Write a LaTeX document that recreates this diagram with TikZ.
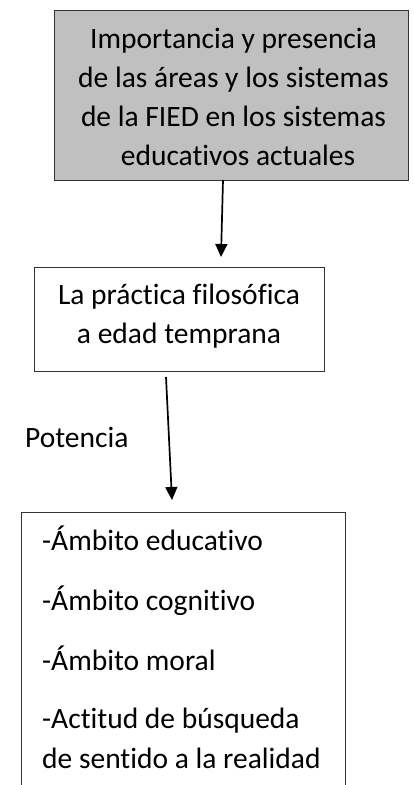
\documentclass[tikz,border=0pt]{standalone}
\usepackage{fontspec}
\setmainfont{Carlito}[Ligatures={NoCommon}]
\usetikzlibrary{arrows.meta,positioning,calc}
\definecolor{boxgray}{HTML}{C0C0C0}
\definecolor{edgegray}{HTML}{333333}
\tikzset{
  boxnode/.style={draw=edgegray, line width=1pt, rectangle, inner sep=0pt, anchor=north west},
  txt/.style={font=\fontsize{29.5}{39}\selectfont, inner sep=0pt, align=center},
  ltxt/.style={font=\fontsize{29.5}{39}\selectfont, inner sep=0pt, anchor=base west},
  arr/.style={line width=1.7pt, -{Triangle[width=12pt,length=13pt]}}
}
\begin{document}
\begin{tikzpicture}[x=1pt,y=-1pt]
\useasboundingbox (0,0) rectangle (414,785);
\clip (0,0) rectangle (414,785);
\fill[white] (0,0) rectangle (414,785);
% boxes
\node[boxnode, fill=boxgray, minimum width=354pt, minimum height=170pt] (top) at (54,10) {};
\node[boxnode, minimum width=290pt, minimum height=104pt] (mid) at (34,267) {};
\node[boxnode, minimum width=324pt, minimum height=320pt] (bot) at (21,512) {};
% texts
\node[txt, anchor=base] (toptext) at (233.5,165) {Importancia y presencia\\de las áreas y los sistemas\\de la FIED en los sistemas\\\hspace*{9pt}educativos actuales};
\node[txt, anchor=base] (midtext) at (179,343) {La práctica filosófica\\a edad temprana};
\node[ltxt] (pot) at (25,447) {Potencia};
\node[ltxt] (l1) at (42,550) {-Ámbito educativo};
\node[ltxt] (l2) at (42,610) {-Ámbito cognitivo};
\node[ltxt] (l3) at (42,670) {-Ámbito moral};
\node[ltxt] (l4) at (42,728) {-Actitud de búsqueda};
\node[ltxt] (l5) at (42,768) {de sentido a la realidad};
% connectors
\coordinate (a1s) at (223,180);
\coordinate (a1e) at (221,257);
\coordinate (a2s) at (166,377);
\coordinate (a2e) at (172,500);
\draw[arr] (a1s) -- (a1e);
\draw[arr] (a2s) -- (a2e);
\end{tikzpicture}
\end{document}
